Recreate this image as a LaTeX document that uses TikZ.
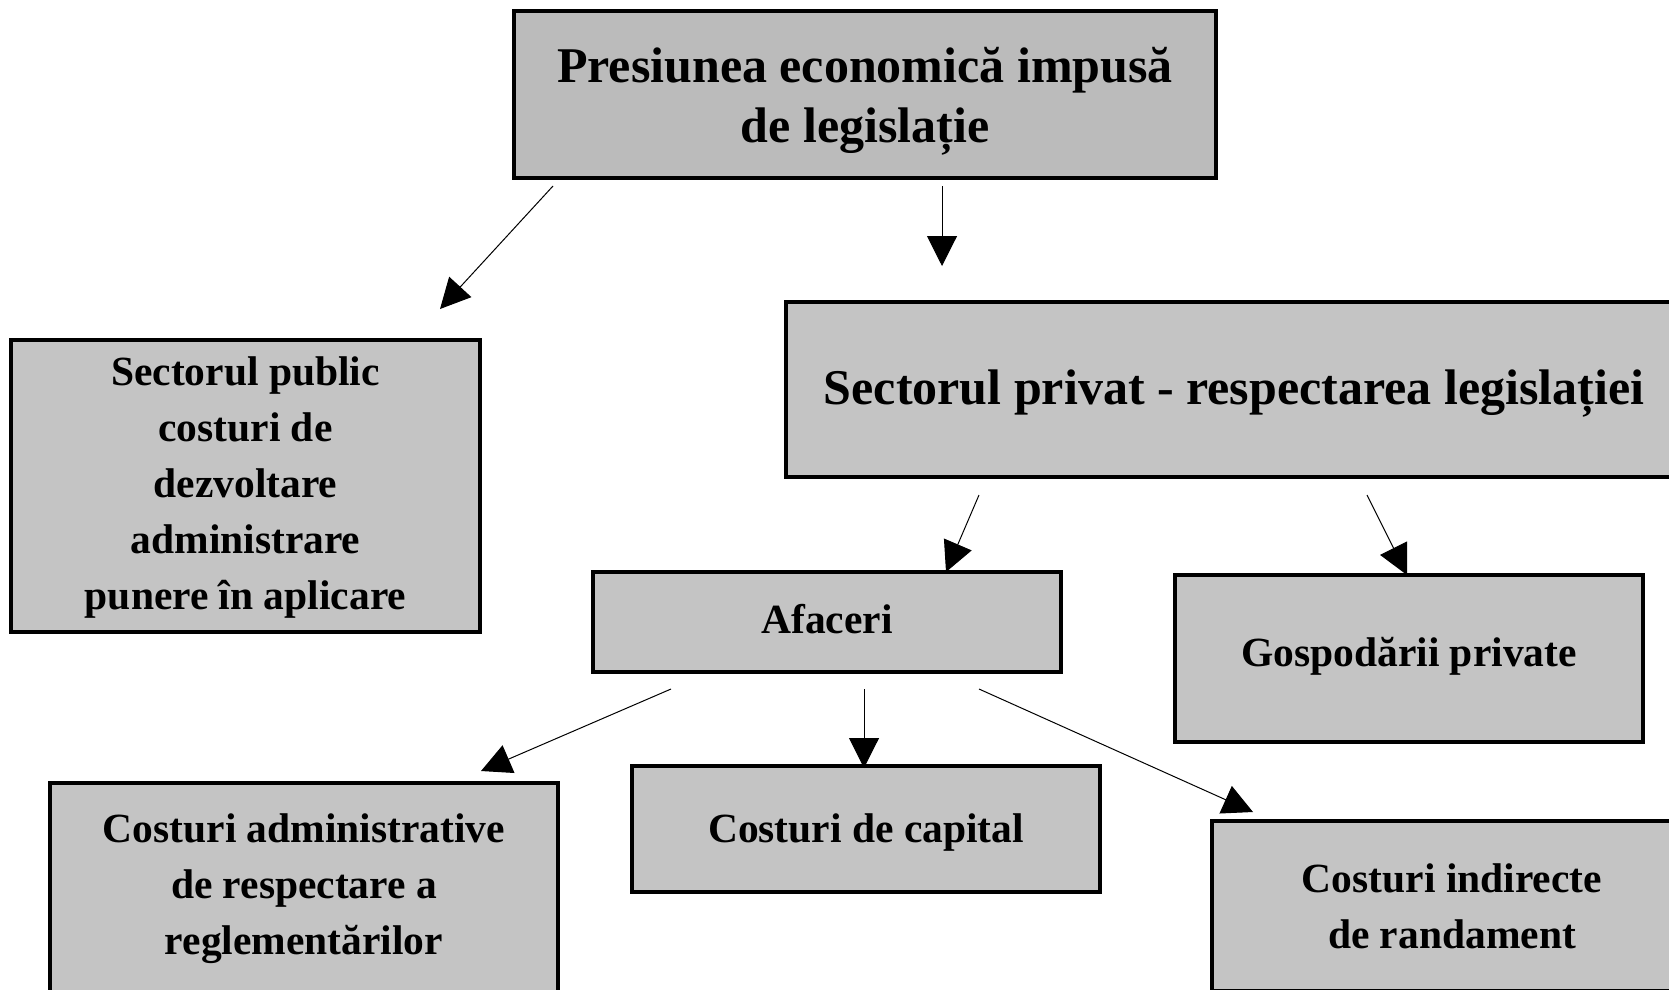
\documentclass[tikz,border=0pt]{standalone}
\usepackage{fontspec}
\setmainfont{Liberation Serif}
\usetikzlibrary{arrows.meta}
\definecolor{boxgrayA}{RGB}{187,187,187}
\definecolor{boxgrayB}{RGB}{196,196,196}
\begin{document}
\begin{tikzpicture}[x=1pt,y=-1pt,
  box/.style={draw=black, line width=4pt, fill=boxgrayB, inner sep=0pt},
  txt/.style={align=center, inner sep=0pt, font=\bfseries\fontsize{41.5}{56}\selectfont},
  bigtext/.style={font=\bfseries\fontsize{50}{60}\selectfont},
  arr/.style={line width=1pt, draw=black, -{Triangle[length=30pt,width=30pt]}}]
\useasboundingbox (0,0) rectangle (1669,989);
\fill[white] (0,0) rectangle (1669,989);

\node[box, fill=boxgrayA, minimum width=702pt, minimum height=167pt] (top) at (865,94.5) {};
\node[txt, bigtext] (topt) at ([yshift=-7pt]top.center) {Presiunea economică impusă\\de legislație};

\node[box, minimum width=469pt, minimum height=292pt] (public) at (245.5,486) {};
\node[txt] (publict) at ([yshift=-1.5pt]public.center)
  {Sectorul public\\costuri de\\dezvoltare\\administrare\\punere în aplicare};

\node[box, minimum width=896pt, minimum height=175pt] (private) at (1234,389.5) {};
\node[txt, bigtext] (privatet) at ([yshift=-4pt]private.center) {Sectorul privat - respectarea legislației};

\node[box, minimum width=468pt, minimum height=100pt] (afaceri) at (827,622) {};
\node[txt] (afacerit) at ([yshift=3pt]afaceri.center) {Afaceri};

\node[box, minimum width=468pt, minimum height=167pt] (gosp) at (1409,658.5) {};
\node[txt] (gospt) at ([yshift=2pt]gosp.center) {Gospodării private};

\node[box, minimum width=508pt, minimum height=212pt] (admin) at (304,889) {};
\node[txt] (admint) at (admin.center) {Costuri administrative\\de respectare a\\reglementărilor};

\node[box, minimum width=468pt, minimum height=126pt] (capital) at (866,829) {};
\node[txt] (capitalt) at ([yshift=-4pt]capital.center) {Costuri de capital};

\node[box, minimum width=480pt, minimum height=170pt] (indirect) at (1452,906) {};
\node[txt] (indirectt) at (indirect.center) {Costuri indirecte\\de randament};

\coordinate (a1s) at (553,186);  \coordinate (a1e) at (440,309);
\coordinate (a2s) at (942,186);  \coordinate (a2e) at (942,266);
\coordinate (a3s) at (979,495);  \coordinate (a3e) at (946,572);
\coordinate (a4s) at (1367,495); \coordinate (a4e) at (1407,575);
\coordinate (a5s) at (671,689);  \coordinate (a5e) at (481,771);
\coordinate (a6s) at (864,689);  \coordinate (a6e) at (864,768);
\coordinate (a7s) at (979,689);  \coordinate (a7e) at (1253,812);

\draw[arr] (a1s) -- (a1e);
\draw[arr] (a2s) -- (a2e);
\draw[arr] (a3s) -- (a3e);
\draw[arr] (a4s) -- (a4e);
\draw[arr] (a5s) -- (a5e);
\draw[arr] (a6s) -- (a6e);
\draw[arr] (a7s) -- (a7e);
\end{tikzpicture}
\end{document}
